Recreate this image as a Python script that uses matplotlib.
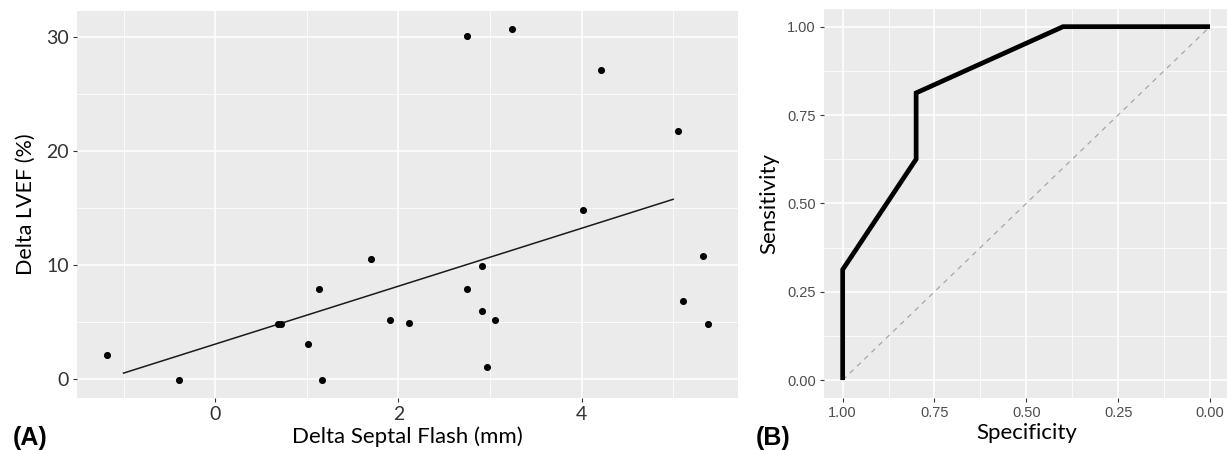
"""
Two-panel figure: septal flash vs LVEF change (A) and ROC curve (B)
"""

import matplotlib
matplotlib.use('Agg')
import matplotlib.pyplot as plt
from matplotlib.ticker import MultipleLocator

# Panel A data
delta_septal_flash = [-1.18, -0.39, 0.69, 0.72, 1.01, 1.13, 1.17, 1.70, 1.91, 2.12,
                      2.75, 3.24, 4.21, 5.05, 4.01, 5.33, 2.91, 2.75, 5.11, 2.91,
                      3.05, 5.38, 2.97]
delta_lvef = [2.16, -0.09, 4.83, 4.88, 3.13, 7.90, -0.03, 10.59, 5.18, 4.94,
              30.14, 30.78, 27.16, 21.80, 14.84, 10.83, 9.95, 7.90, 6.88, 6.02,
              5.18, 4.86, 1.05]
fit_x = [-1.0, 5.0]
fit_y = [0.55, 15.80]

# Panel B data
specificity = [1.0, 1.0, 0.8, 0.8, 0.4, 0.0]
sensitivity = [0.0, 0.3125, 0.625, 0.8125, 1.0, 1.0]
ref_line = [0.0, 1.0]

PANEL_BG = '#EBEBEB'
LEFT_FONT = 'Lato'
RIGHT_FONT = 'Liberation Sans'


def style_ggplot(ax, font, size, color):
    """Grey panel, white grid, no spines"""
    ax.set_facecolor(PANEL_BG)
    for s in ax.spines.values():
        s.set_visible(False)
    ax.grid(which='major', color='white', linewidth=1.1)
    ax.grid(which='minor', color='white', linewidth=0.55)
    ax.set_axisbelow(True)
    ax.tick_params(which='major', length=3, width=0.8, color='#333333', pad=3,
                   labelsize=size, labelcolor=color, labelfontfamily=font)
    ax.tick_params(which='minor', length=0)


fig = plt.figure(figsize=(12.27, 4.5), dpi=100)

# (A) scatter with fitted line
ax1 = fig.add_axes([0.0628, 0.1156, 0.5387, 0.86])
style_ggplot(ax1, LEFT_FONT, 14, '#333333')
ax1.scatter(delta_septal_flash, delta_lvef, s=26, color='black', zorder=3, linewidths=0)
ax1.plot(fit_x, fit_y, color='#1a1a1a', linewidth=1.1, zorder=2)

xr = max(delta_septal_flash) - min(delta_septal_flash)
yr = max(delta_lvef) - min(delta_lvef)
ax1.set_xlim(min(delta_septal_flash) - 0.05 * xr, max(delta_septal_flash) + 0.05 * xr)
ax1.set_ylim(min(delta_lvef) - 0.05 * yr, max(delta_lvef) + 0.05 * yr)
ax1.xaxis.set_major_locator(MultipleLocator(2))
ax1.xaxis.set_minor_locator(MultipleLocator(1))
ax1.yaxis.set_major_locator(MultipleLocator(10))
ax1.yaxis.set_minor_locator(MultipleLocator(5))
ax1.set_xlabel('Delta Septal Flash (mm)', fontfamily=LEFT_FONT, fontsize=16, labelpad=2)
ax1.set_ylabel('Delta LVEF (%)', fontfamily=LEFT_FONT, fontsize=15.5, labelpad=7.5)

# (B) ROC curve
ax2 = fig.add_axes([0.6718, 0.1162, 0.3293, 0.8638])
style_ggplot(ax2, RIGHT_FONT, 10.5, '#4D4D4D')
ax2.plot(ref_line[::-1], ref_line, color='#A6A6A6', linewidth=0.9,
         linestyle=(0, (4, 4)), zorder=2)
ax2.plot(specificity, sensitivity, color='black', linewidth=3.4,
         solid_capstyle='butt', solid_joinstyle='miter', zorder=3)
ax2.set_xlim(1.05, -0.05)
ax2.set_ylim(-0.05, 1.05)
ax2.xaxis.set_major_locator(MultipleLocator(0.25))
ax2.xaxis.set_minor_locator(MultipleLocator(0.125))
ax2.yaxis.set_major_locator(MultipleLocator(0.25))
ax2.yaxis.set_minor_locator(MultipleLocator(0.125))
ax2.xaxis.set_major_formatter(lambda v, p: f'{v:.2f}')
ax2.yaxis.set_major_formatter(lambda v, p: f'{v:.2f}')
ax2.set_xlabel('Specificity', fontfamily=LEFT_FONT, fontsize=16, labelpad=2)
ax2.set_ylabel('Sensitivity', fontfamily=LEFT_FONT, fontsize=16, labelpad=6)

# Panel tags
fig.text(13 / 1227, 1 - 445 / 450, '(A)', fontfamily=RIGHT_FONT, fontweight='bold',
         fontsize=18, ha='left', va='baseline')
fig.text(756 / 1227, 1 - 445 / 450, '(B)', fontfamily=RIGHT_FONT, fontweight='bold',
         fontsize=18, ha='left', va='baseline')

plt.savefig('out.png', dpi=100)
plt.close()
